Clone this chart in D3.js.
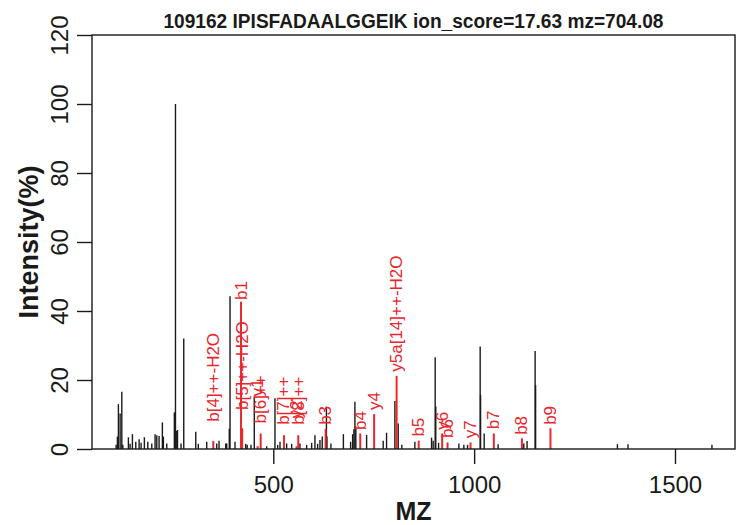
<!DOCTYPE html>
<html><head><meta charset="utf-8">
<script src="https://cdn.jsdelivr.net/npm/d3@7"></script>
<style>
html,body{margin:0;padding:0;background:#fff;}
svg text{font-family:"Liberation Sans",Arial,Helvetica,sans-serif;}
</style></head>
<body><svg id="c" width="737" height="525"></svg>
<script>
const titleText = "109162 IPISFADAALGGEIK ion_score=17.63 mz=704.08";
const xTicks = [500, 1000, 1500];
const yTicks = [0, 20, 40, 60, 80, 100, 120];

// unmatched peaks (black)
const peakMz = [108.7,111.9,114.4,118.7,122.9,125.4,139.3,143.5,149.3,157.7,166,170.9,179.1,187.6,197.5,205.7,210,215.7,223.9,226.4,234.8,253.7,256.5,259.7,261.5,270.4,277.1,307,313.4,334.3,359.2,364.9,381.6,384,390.5,392.3,404.7,431.3,435,444.5,452.7,483.6,504.2,510.9,516.7,533.3,545.7,566.4,583,595.5,603.7,610.4,616.2,621.9,632.3,633.5,643.5,674.5,692.5,697.5,700.7,703.2,705.5,732.3,773.6,782,802.7,811,820,852.5,894,898,903,904.5,911.5,962,974.4,983.6,1015,1016,1025,1059.7,1123.6,1131.8,1151.8,1153,1356.7,1383,1592];
const peakInt = [1.2,3.6,13.0,10.3,16.6,1.2,3.4,1.5,4.3,2.1,2.8,1.8,3.4,2.1,1.6,4.3,4.0,3.8,7.7,3.6,1.6,10.6,100,5.2,5.5,1.6,32,5.0,1.5,2.1,1.6,2.4,1.6,1.6,5.9,44.3,2.1,1.5,1.2,1.2,15.2,0.8,14.7,1.2,2.1,1.6,1.5,1.6,1.2,1.8,4.0,1.5,2.6,3.6,12.3,3.6,1.6,4.3,2.1,4.3,5.7,13.7,6.5,4.1,2.4,4.7,13.9,7.4,1.2,2.1,3.3,2.4,26.6,12.3,1.8,1.6,1.2,1.2,29.7,15.7,4.5,1.4,1.6,2.3,28.4,18.5,1.4,1.4,1.2];

// matched peaks (red) with annotation
const ionMz = [350.7,419.7,422.5,468.6,461,526.6,562.2,558,630.3,716.5,751,807,862,920.4,933.8,991,1049,1119,1190];
const ionInt = [2.3,42.7,6.0,4.5,0.8,4.0,4.0,0.8,5.8,4.5,10.1,21.2,2.4,4.5,1.9,1.9,4.5,3.1,6.0];
const ionLabel = ["b[4]++-H2O","b1","b[5]++-H2O","b[6]++","y1","b[7]++","b[8]++","y2","b3","b4","y4","y5a[14]++-H2O","b5","y6","b6","y7","b7","b8","b9"];
const ionLabelAt = [7.9,43.2,11.3,7.4,15.2,7.0,7.0,8.9,7.0,5.5,11.3,22.4,3.6,5.6,3.2,3.1,5.7,4.1,7.0];

const svg = d3.select("#c");
const L = 92, R = 735, T = 35, B = 449;
const x = d3.scaleLinear().domain([48.7, 1649.4]).range([L, R]);
const y = d3.scaleLinear().domain([0, 120]).range([B, T]);
const red = "#e8262b", ink = "#1a1a1a";

// black peaks
svg.append("g").selectAll("line").data(peakMz).join("line")
  .attr("x1", d => x(d)).attr("x2", d => x(d))
  .attr("y1", y(0)).attr("y2", (d, i) => y(peakInt[i]))
  .attr("stroke", ink).attr("stroke-width", 1.4);

// red peaks
svg.append("g").selectAll("line").data(ionMz).join("line")
  .attr("x1", d => x(d)).attr("x2", d => x(d))
  .attr("y1", y(0)).attr("y2", (d, i) => y(ionInt[i]))
  .attr("stroke", red).attr("stroke-width", 2);

// labels
svg.append("g").selectAll("text").data(ionMz).join("text")
  .attr("transform", (d, i) => `translate(${x(d)},${y(ionLabelAt[i])}) rotate(-90)`)
  .attr("text-anchor", "start").attr("dominant-baseline", "central")
  .attr("font-size", 17).attr("fill", red)
  .text((d, i) => ionLabel[i]);

// box
svg.append("rect").attr("x", L).attr("y", T).attr("width", R - L).attr("height", B - T)
  .attr("fill", "none").attr("stroke", ink).attr("stroke-width", 1.4);

// x axis
const xa = svg.append("g").attr("transform", `translate(0,${B})`)
  .call(d3.axisBottom(x).tickValues(xTicks).tickSize(15).tickPadding(12).tickFormat(d3.format("d")));
xa.select(".domain").remove();
xa.selectAll("line").attr("stroke", ink).attr("stroke-width", 1.4);
xa.selectAll("text").attr("font-size", 24).attr("fill", ink).attr("font-family", "Liberation Sans, Arial, sans-serif");

// y axis
const ya = svg.append("g").attr("transform", `translate(${L},0)`)
  .call(d3.axisLeft(y).tickValues(yTicks).tickSize(15).tickFormat(d3.format("d")));
ya.select(".domain").remove();
ya.selectAll("line").attr("stroke", ink).attr("stroke-width", 1.4);
ya.selectAll("text").attr("font-size", 24).attr("fill", ink)
  .attr("font-family", "Liberation Sans, Arial, sans-serif")
  .attr("x", null).attr("dy", null)
  .attr("text-anchor", "middle")
  .attr("transform", "translate(-24,0) rotate(-90)");

// titles
svg.append("text").attr("x", (L + R) / 2).attr("y", 27.5)
  .attr("text-anchor", "middle").attr("font-weight", "bold").attr("font-size", 20)
  .attr("textLength", 500).attr("lengthAdjust", "spacingAndGlyphs")
  .attr("fill", ink).text(titleText);
svg.append("text").attr("x", (L + R) / 2).attr("y", 519.5)
  .attr("text-anchor", "middle").attr("font-weight", "bold").attr("font-size", 25)
  .attr("fill", ink).text("MZ");
svg.append("text").attr("transform", `translate(38,${(T + B) / 2}) rotate(-90)`)
  .attr("text-anchor", "middle").attr("font-weight", "bold").attr("font-size", 27)
  .attr("fill", ink).text("Intensity(%)");
</script></body></html>
